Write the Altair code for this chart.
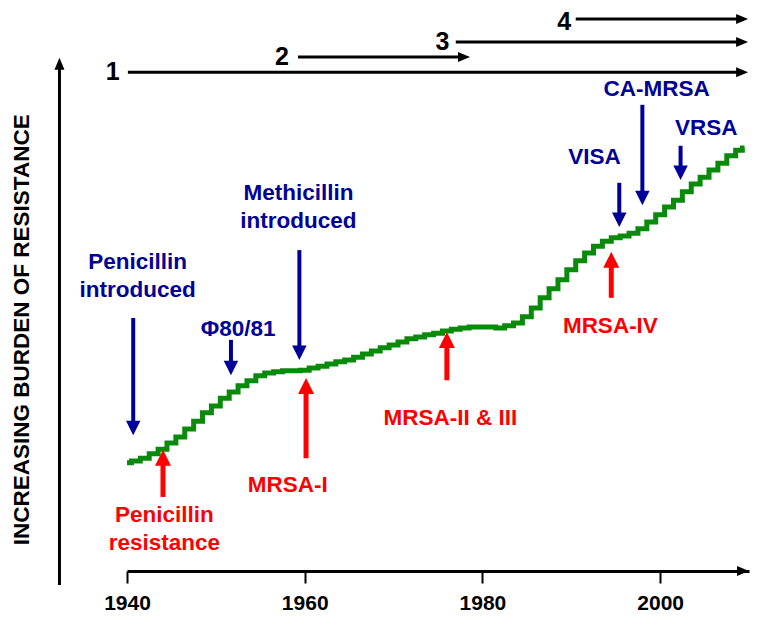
import altair as alt
import pandas as pd

FONT = "Liberation Sans"
NARROW = "Liberation Sans Narrow, Arial Narrow, Liberation Sans"
GREEN = "#0a8a0a"
BLUE = "#000099"
RED = "#ff0000"

# ---- green burden curve (arbitrary units 0-100) ----
years = [1940, 1941, 1942, 1943, 1944, 1945, 1946, 1947, 1948, 1949,
         1950, 1951, 1952, 1953, 1954, 1955, 1956, 1957, 1958, 1959,
         1960, 1961, 1962, 1963, 1964, 1965, 1966, 1967, 1968, 1969,
         1970, 1971, 1972, 1973, 1974, 1975, 1976, 1977, 1978, 1979,
         1980, 1981, 1982, 1983, 1984, 1985, 1986, 1987, 1988, 1989,
         1990, 1991, 1992, 1993, 1994, 1995, 1996, 1997, 1998, 1999,
         2000, 2001, 2002, 2003, 2004, 2005, 2006, 2007, 2008, 2009, 2009.5]
burden = [19.3, 19.6, 20.1, 20.9, 21.7, 22.8, 23.9, 25.3, 26.7, 28.2,
          29.4, 30.8, 31.9, 33.0, 33.9, 34.8, 35.3, 35.5, 35.7, 35.7,
          35.8, 36.2, 36.5, 36.9, 37.3, 37.6, 38.1, 38.7, 39.2, 39.8,
          40.3, 40.8, 41.4, 41.7, 42.1, 42.4, 42.8, 43.1, 43.3, 43.5,
          43.5, 43.5, 43.3, 43.7, 44.2, 45.3, 46.9, 48.7, 50.3, 51.9,
          53.7, 55.3, 56.7, 57.9, 58.8, 59.4, 59.7, 60.2, 61.0, 62.2,
          63.5, 64.9, 66.1, 67.6, 69.0, 70.2, 71.5, 72.7, 74.0, 75.0, 75.4]

# ---- blue events (introductions / new strains), arrows pointing down ----
blue_labels = ["Penicillin\nintroduced", "\u03a680/81", "Methicillin\nintroduced",
               "VISA", "CA-MRSA", "VRSA"]
blue_label_year = [1941.2, 1952.5, 1959.3, 1992.6, 1999.6, 2005.2]
blue_label_level = [55.1, 43.1, 67.4, 73.8, 85.9, 79.0]
blue_arrow_year = [1940.7, 1951.7, 1959.4, 1995.4, 1998.0, 2002.3]
blue_arrow_from = [45.1, 41.2, 57.2, 69.2, 83.1, 75.8]
blue_arrow_to = [24.2, 34.9, 37.6, 61.3, 65.2, 69.7]

# ---- red events (resistance), arrows pointing up ----
red_labels = ["Penicillin\nresistance", "MRSA-I", "MRSA-II & III", "MRSA-IV"]
red_label_year = [1944.2, 1958.1, 1976.4, 1994.4]
red_label_level = [10.0, 15.3, 27.3, 43.7]
red_arrow_year = [1944.05, 1960.15, 1976.0, 1994.5]
red_arrow_from = [13.2, 20.1, 34.0, 48.7]
red_arrow_to = [21.6, 34.4, 42.6, 56.9]

# ---- numbered waves (top arrows) ----
wave_labels = ["1", "2", "3", "4"]
wave_label_year = [1938.4, 1957.45, 1975.5, 1989.2]
wave_label_level = [88.9, 91.6, 94.3, 97.9]
wave_start = [1940.1, 1959.25, 1977.0, 1990.5]
wave_end = [2009.9, 1978.6, 2009.9, 2009.9]
wave_level = [88.9, 91.6, 94.3, 98.4]

# ---- axes ----
x_ticks = [1940, 1960, 1980, 2000]
y_title = "INCREASING BURDEN OF RESISTANCE"
y_axis_year = [1932.4]
y_axis_from = [-2.5]
y_axis_to = [91.5]
y_title_year = [1928.2]
y_title_level = [43.0]
x_axis_end = [2010.0]
x_axis_level = [0.0]

xs = alt.Scale(domain=[1940, 2010], nice=False, zero=False)
ys = alt.Scale(domain=[0, 100], nice=False, zero=False)
x_axis = alt.Axis(values=x_ticks, format="d", title=None, grid=False,
                  domainColor="black", domainWidth=3, tickColor="black",
                  tickWidth=2, tickSize=12, labelFont=NARROW, labelFontSize=21,
                  labelFontWeight="bold", labelColor="black", labelPadding=9,
                  labelFlush=False)


def X(f):
    return alt.X(f, type="quantitative", scale=xs, axis=x_axis)


def Y(f):
    return alt.Y(f, type="quantitative", scale=ys, axis=None)


DOWN = "M-1,-2L1,-2L0,0Z"
UP = "M-1,2L1,2L0,0Z"
RIGHT = "M-2.4,-1L-2.4,1L0,0Z"
UP_SMALL = "M-1,2.4L1,2.4L0,0Z"

df_curve = pd.DataFrame({"year": years, "burden": burden})
df_blue = pd.DataFrame({"label": blue_labels, "ly": blue_label_year, "lv": blue_label_level,
                        "ay": blue_arrow_year, "af": blue_arrow_from, "at": blue_arrow_to})
df_red = pd.DataFrame({"label": red_labels, "ly": red_label_year, "lv": red_label_level,
                       "ay": red_arrow_year, "af": red_arrow_from, "at": red_arrow_to})
df_wave = pd.DataFrame({"label": wave_labels, "ly": wave_label_year, "lv": wave_label_level,
                        "s": wave_start, "e": wave_end, "v": wave_level})
df_yaxis = pd.DataFrame({"x": y_axis_year, "f": y_axis_from, "t": y_axis_to})
df_ytitle = pd.DataFrame({"x": y_title_year, "v": y_title_level, "label": [y_title]})
df_xend = pd.DataFrame({"x": x_axis_end, "v": x_axis_level})

curve = alt.Chart(df_curve).mark_line(interpolate="step", strokeWidth=5, color=GREEN).encode(
    x=X("year"), y=Y("burden"))

text_common = dict(fontWeight="bold", align="center", baseline="middle", lineBreak="\n")

blue_shaft = alt.Chart(df_blue).mark_rule(strokeWidth=4, color=BLUE, y2Offset=-7).encode(
    x=X("ay"), y=Y("af"), y2=alt.Y2("at"))
blue_head = alt.Chart(df_blue).mark_point(shape=DOWN, size=210, filled=True, opacity=1,
                                          color=BLUE, strokeWidth=0).encode(x=X("ay"), y=Y("at"))
blue_text = alt.Chart(df_blue).mark_text(font=FONT, fontSize=22.5, color=BLUE, lineHeight=28,
                                         **text_common).encode(
    x=X("ly"), y=Y("lv"), text="label:N")

red_shaft = alt.Chart(df_red).mark_rule(strokeWidth=5, color=RED, y2Offset=8).encode(
    x=X("ay"), y=Y("af"), y2=alt.Y2("at"))
red_head = alt.Chart(df_red).mark_point(shape=UP, size=256, filled=True, opacity=1,
                                        color=RED, strokeWidth=0).encode(x=X("ay"), y=Y("at"))
red_text = alt.Chart(df_red).mark_text(font=FONT, fontSize=22.5, color=RED, lineHeight=28,
                                       **text_common).encode(
    x=X("ly"), y=Y("lv"), text="label:N")

wave_shaft = alt.Chart(df_wave).mark_rule(strokeWidth=3, color="black", x2Offset=-6).encode(
    x=X("s"), x2=alt.X2("e"), y=Y("v"))
wave_head = alt.Chart(df_wave).mark_point(shape=RIGHT, size=100, filled=True, opacity=1,
                                          color="black", strokeWidth=0).encode(x=X("e"), y=Y("v"))
wave_text = alt.Chart(df_wave).mark_text(font=NARROW, fontSize=25, color="black",
                                         **text_common).encode(
    x=X("ly"), y=Y("lv"), text="label:N")

yaxis_shaft = alt.Chart(df_yaxis).mark_rule(strokeWidth=3, color="black", y2Offset=6).encode(
    x=X("x"), y=Y("f"), y2=alt.Y2("t"))
yaxis_head = alt.Chart(df_yaxis).mark_point(shape=UP_SMALL, size=100, filled=True, opacity=1,
                                            color="black", strokeWidth=0).encode(x=X("x"), y=Y("t"))
ytitle = alt.Chart(df_ytitle).mark_text(font=FONT, fontSize=22.5, color="black", angle=270,
                                        **text_common).encode(
    x=X("x"), y=Y("v"), text="label:N")
xaxis_head = alt.Chart(df_xend).mark_point(shape=RIGHT, size=100, filled=True, opacity=1,
                                           color="black", strokeWidth=0).encode(x=X("x"), y=Y("v"))

chart = alt.layer(
    curve, blue_shaft, blue_head, blue_text, red_shaft, red_head, red_text,
    wave_shaft, wave_head, wave_text, yaxis_shaft, yaxis_head, ytitle, xaxis_head
).properties(
    width=622, height=561,
    padding={"left": 119, "top": 2, "right": 4, "bottom": 45},
    autosize=alt.AutoSizeParams(type="none"),
    background="white",
).configure_view(stroke=None)

chart.save("out.html", embed_options={"renderer": "svg", "actions": False})
